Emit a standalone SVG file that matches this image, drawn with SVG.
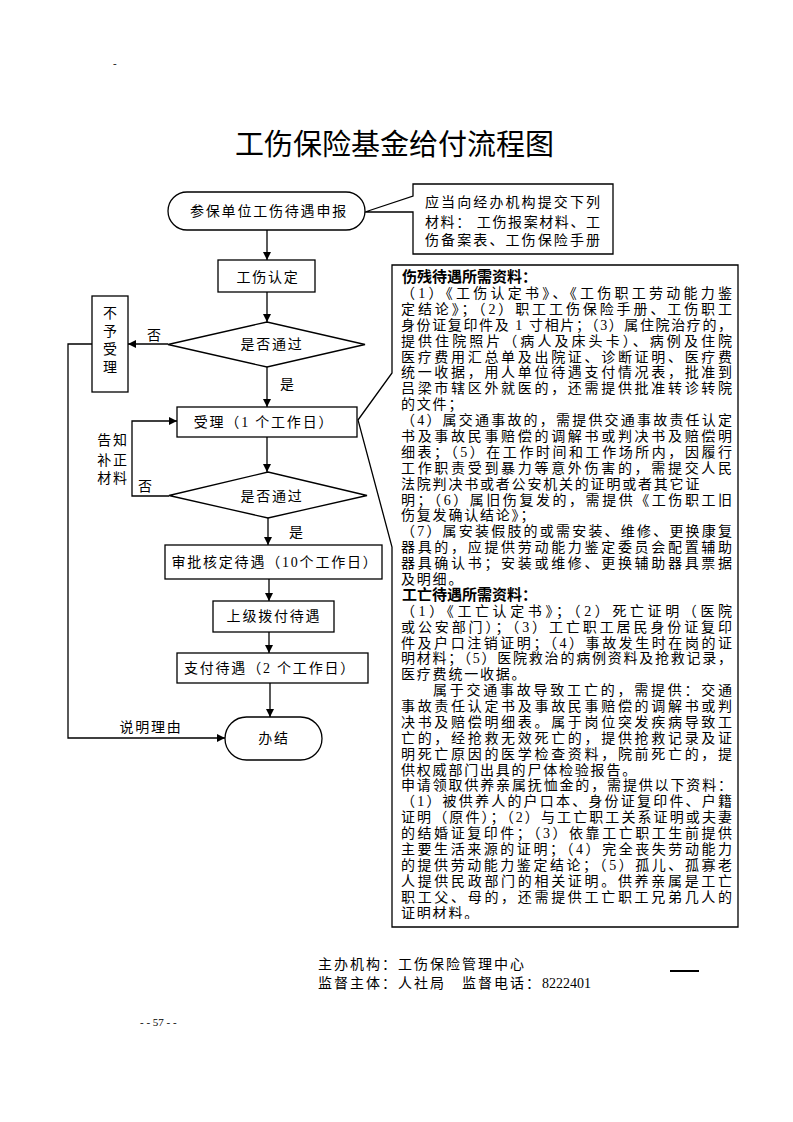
<svg xmlns="http://www.w3.org/2000/svg" width="793" height="1122" viewBox="0 0 793 1122">
<defs>
<style>
.f{font-family:"Liberation Serif","Noto Sans CJK SC",serif;font-size:14px;fill:#000}
.ls{letter-spacing:1.8px}
.m{text-anchor:middle}
.b{font-weight:bold;font-size:15px}
.s{fill:#fff;stroke:#000;stroke-width:1.3}
.c{fill:none;stroke:#000;stroke-width:1.3}
.title{font-family:"Noto Sans CJK SC","Microsoft YaHei",sans-serif;font-size:29px;fill:#000}
</style>
<marker id="ah" viewBox="0 0 10 10" refX="10" refY="5" markerWidth="8" markerHeight="8" markerUnits="userSpaceOnUse" orient="auto">
<path d="M0,0 L10,5 L0,10 Z" fill="#000"/>
</marker>
<clipPath id="clipBox"><rect x="393" y="266" width="344" height="653"/></clipPath>
</defs>
<rect width="793" height="1122" fill="#fff"/>
<text x="113" y="67" style="font-family:'Liberation Serif',serif;font-size:11px">-</text>
<text class="title" x="235" y="155">工伤保险基金给付流程图</text>

<g id="connectors">
<path class="c" d="M267,230 V260" marker-end="url(#ah)"/>
<path class="c" d="M267,292 V322" marker-end="url(#ah)"/>
<path class="c" d="M168,344 H128" marker-end="url(#ah)"/>
<path class="c" d="M267,367 V407" marker-end="url(#ah)"/>
<path class="c" d="M267,437 V472" marker-end="url(#ah)"/>
<path class="c" d="M169,496 H132 V421 H177" marker-end="url(#ah)"/>
<path class="c" d="M268,517 V545" marker-end="url(#ah)"/>
<path class="c" d="M269,579 V601" marker-end="url(#ah)"/>
<path class="c" d="M269,632 V653" marker-end="url(#ah)"/>
<path class="c" d="M270,683 V717" marker-end="url(#ah)"/>
<path class="c" d="M92,344 H68 V738 H225" marker-end="url(#ah)"/>
<text class="f" x="147" y="340">否</text>
<text class="f" x="280" y="389">是</text>
<text class="f" x="289" y="537">是</text>
<text class="f" x="138" y="491">否</text>
<text class="f ls m" x="113" y="445">告知</text>
<text class="f ls m" x="113" y="465">补正</text>
<text class="f ls m" x="113" y="483">材料</text>
<text class="f ls m" x="151" y="732">说明理由</text>
</g>

<g id="start">
<rect class="s" x="168" y="192" width="197" height="38" rx="19" ry="19"/>
<text class="f ls m" x="269" y="216">参保单位工伤待遇申报</text>
</g>
<g id="note-top">
<path class="s" d="M413,190 V184 H613 V254 H413 V212 H365 L413,196 Z"/>
<path d="M413,197 V211" stroke="#fff" stroke-width="2"/>
<text class="f" x="425" y="207" textLength="175" lengthAdjust="spacing">应当向经办机构提交下列</text>
<text class="f" x="425" y="227" textLength="175" lengthAdjust="spacing">材料： 工伤报案材料、工</text>
<text class="f" x="425" y="245" textLength="175" lengthAdjust="spacing">伤备案表、工伤保险手册</text>
</g>
<g id="identify">
<rect class="s" x="218" y="260" width="97" height="32"/>
<text class="f ls m" x="268" y="282">工伤认定</text>
</g>
<g id="decision1">
<path class="s" d="M168,344.5 L267,322 L365,344.5 L267,367 Z"/>
<text class="f ls m" x="272" y="349">是否通过</text>
</g>
<g id="reject">
<rect class="s" x="92" y="296" width="36" height="96"/>
<text class="f m" x="110" y="318">不</text>
<text class="f m" x="110" y="336">予</text>
<text class="f m" x="110" y="354">受</text>
<text class="f m" x="110" y="372">理</text>
</g>
<g id="accept">
<rect class="s" x="177" y="407" width="180" height="30"/>
<text class="f ls m" x="264" y="427">受理（1 个工作日）</text>
</g>
<g id="decision2">
<path class="s" d="M169,495.5 L268,472 L367,495.5 L268,518 Z"/>
<text class="f ls m" x="272" y="501">是否通过</text>
</g>
<g id="approve">
<rect class="s" x="165" y="545" width="217" height="34"/>
<text class="f ls m" x="275" y="567">审批核定待遇（10个工作日）</text>
</g>
<g id="allocate">
<rect class="s" x="213" y="601" width="121" height="31"/>
<text class="f ls m" x="274" y="621">上级拨付待遇</text>
</g>
<g id="pay">
<rect class="s" x="177" y="653" width="191" height="30"/>
<text class="f ls m" x="270" y="673">支付待遇（2 个工作日）</text>
</g>
<g id="end">
<rect class="s" x="225" y="717" width="97" height="43" rx="21.5" ry="21.5"/>
<text class="f ls m" x="274" y="743">办结</text>
</g>

<g id="materials">
<path class="s" d="M392,265 H738 V927 H392 V547 L358,420 L392,373 Z"/>
<g clip-path="url(#clipBox)">
<text class="f b" x="402" y="282">伤残待遇所需资料：</text>
<text class="f" x="401" y="298" textLength="331" lengthAdjust="spacing">（1）《工伤认定书》、《工伤职工劳动能力鉴</text>
<text class="f" x="401" y="314" textLength="331" lengthAdjust="spacing">定结论》；（2）职工工伤保险手册、工伤职工</text>
<text class="f" x="401" y="330" textLength="331" lengthAdjust="spacing">身份证复印件及 1 寸相片；（3）属住院治疗的，</text>
<text class="f" x="401" y="346" textLength="331" lengthAdjust="spacing">提供住院照片（病人及床头卡）、病例及住院</text>
<text class="f" x="401" y="362" textLength="331" lengthAdjust="spacing">医疗费用汇总单及出院证、诊断证明、医疗费</text>
<text class="f" x="401" y="377" textLength="331" lengthAdjust="spacing">统一收据，用人单位待遇支付情况表，批准到</text>
<text class="f" x="401" y="393" textLength="331" lengthAdjust="spacing">吕梁市辖区外就医的，还需提供批准转诊转院</text>
<text class="f ls" x="401" y="409">的文件；</text>
<text class="f" x="401" y="425" textLength="331" lengthAdjust="spacing">（4）属交通事故的，需提供交通事故责任认定</text>
<text class="f" x="401" y="441" textLength="331" lengthAdjust="spacing">书及事故民事赔偿的调解书或判决书及赔偿明</text>
<text class="f" x="401" y="457" textLength="331" lengthAdjust="spacing">细表；（5）在工作时间和工作场所内，因履行</text>
<text class="f" x="401" y="473" textLength="331" lengthAdjust="spacing">工作职责受到暴力等意外伤害的，需提交人民</text>
<text class="f ls" x="401" y="489">法院判决书或者公安机关的证明或者其它证</text>
<text class="f" x="401" y="505" textLength="331" lengthAdjust="spacing">明；（6）属旧伤复发的，需提供《工伤职工旧</text>
<text class="f ls" x="401" y="520">伤复发确认结论》；</text>
<text class="f" x="401" y="536" textLength="331" lengthAdjust="spacing">（7）属安装假肢的或需安装、维修、更换康复</text>
<text class="f" x="401" y="552" textLength="331" lengthAdjust="spacing">器具的，应提供劳动能力鉴定委员会配置辅助</text>
<text class="f" x="401" y="568" textLength="331" lengthAdjust="spacing">器具确认书；安装或维修、更换辅助器具票据</text>
<text class="f ls" x="401" y="584">及明细。</text>
<text class="f b" x="402" y="600">工亡待遇所需资料：</text>
<text class="f" x="401" y="616" textLength="331" lengthAdjust="spacing">（1）《工亡认定书》；（2）死亡证明（医院</text>
<text class="f" x="401" y="632" textLength="331" lengthAdjust="spacing">或公安部门）；（3）工亡职工居民身份证复印</text>
<text class="f" x="401" y="648" textLength="331" lengthAdjust="spacing">件及户口注销证明；（4）事故发生时在岗的证</text>
<text class="f" x="401" y="663" textLength="331" lengthAdjust="spacing">明材料；（5）医院救治的病例资料及抢救记录，</text>
<text class="f ls" x="401" y="679">医疗费统一收据。</text>
<text class="f" x="433" y="695" textLength="299" lengthAdjust="spacing">属于交通事故导致工亡的，需提供：交通</text>
<text class="f" x="401" y="711" textLength="331" lengthAdjust="spacing">事故责任认定书及事故民事赔偿的调解书或判</text>
<text class="f" x="401" y="727" textLength="331" lengthAdjust="spacing">决书及赔偿明细表。属于岗位突发疾病导致工</text>
<text class="f" x="401" y="743" textLength="331" lengthAdjust="spacing">亡的，经抢救无效死亡的，提供抢救记录及证</text>
<text class="f" x="401" y="759" textLength="331" lengthAdjust="spacing">明死亡原因的医学检查资料，院前死亡的，提</text>
<text class="f ls" x="401" y="775">供权威部门出具的尸体检验报告。</text>
<text class="f" x="401" y="790" textLength="331" lengthAdjust="spacing">申请领取供养亲属抚恤金的，需提供以下资料：</text>
<text class="f" x="401" y="806" textLength="331" lengthAdjust="spacing">（1）被供养人的户口本、身份证复印件、户籍</text>
<text class="f" x="401" y="822" textLength="331" lengthAdjust="spacing">证明（原件）；（2）与工亡职工关系证明或夫妻</text>
<text class="f" x="401" y="838" textLength="331" lengthAdjust="spacing">的结婚证复印件；（3）依靠工亡职工生前提供</text>
<text class="f" x="401" y="854" textLength="331" lengthAdjust="spacing">主要生活来源的证明；（4）完全丧失劳动能力</text>
<text class="f" x="401" y="870" textLength="331" lengthAdjust="spacing">的提供劳动能力鉴定结论；（5）孤儿、孤寡老</text>
<text class="f" x="401" y="886" textLength="331" lengthAdjust="spacing">人提供民政部门的相关证明。供养亲属是工亡</text>
<text class="f" x="401" y="902" textLength="331" lengthAdjust="spacing">职工父、母的，还需提供工亡职工兄弟几人的</text>
<text class="f ls" x="401" y="918">证明材料。</text>
</g>
</g>

<g id="footer">
<text class="f" x="318" y="969" style="letter-spacing:2px">主办机构：工伤保险管理中心</text>
<text class="f" x="318" y="988" style="letter-spacing:2px">监督主体：人社局　监督电话：<tspan style="letter-spacing:0">8222401</tspan></text>
<line x1="670" y1="971" x2="699" y2="971" stroke="#000" stroke-width="2"/>
<text x="140" y="1026" style="font-family:'Liberation Serif',serif;font-size:11px">- - 57 - -</text>
</g>
</svg>
